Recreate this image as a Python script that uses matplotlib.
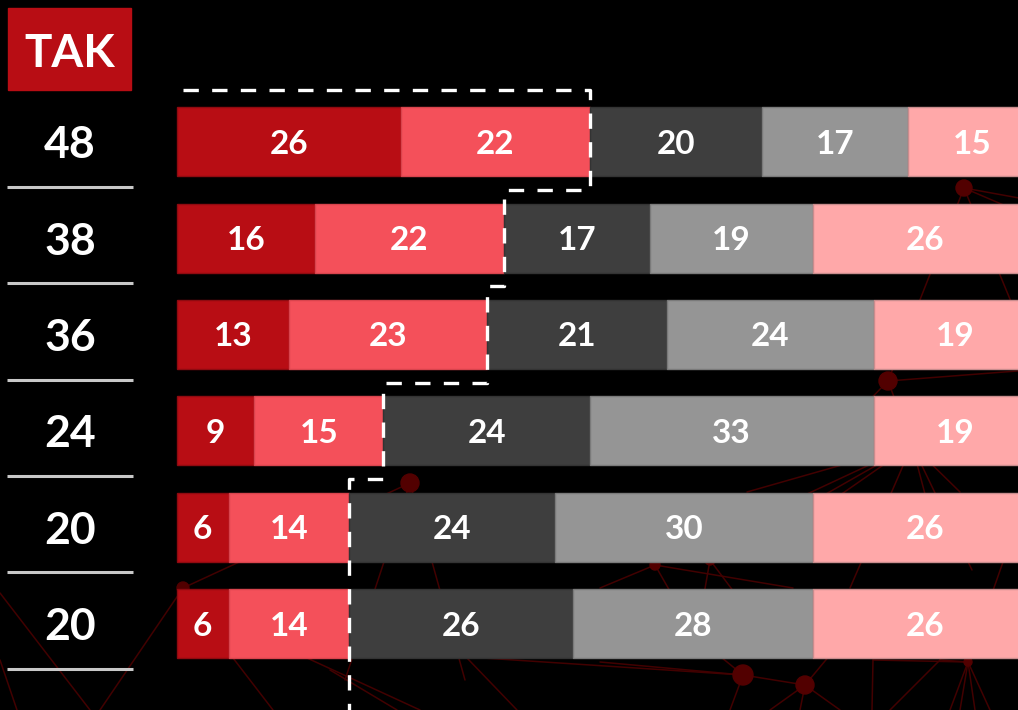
import matplotlib
matplotlib.use('Agg')
import matplotlib.pyplot as plt
import matplotlib.transforms as mtransforms
from matplotlib.patches import Rectangle, Circle
import numpy as np

plt.rcParams['font.family'] = ['Lato', 'DejaVu Sans']

# ---------------- data ----------------
header = "TAK"
seg1 = [26, 16, 13, 9, 6, 6]       # dark red
seg2 = [22, 22, 23, 15, 14, 14]    # red
seg3 = [20, 17, 21, 24, 24, 26]    # dark grey
seg4 = [17, 19, 24, 33, 30, 28]    # grey
seg5 = [15, 26, 19, 19, 26, 26]    # light pink
series = [seg1, seg2, seg3, seg4, seg5]
colors = ['#B80D14', '#F4505A', '#3E3E3E', '#959595', '#FFA8A9']
edge_colors = ['#8F0A10', '#D8444D', '#333333', '#7A7A7A', '#C98C8D']

# ---------------- layout ----------------
W, H = 1018, 710
PX_PER_UNIT = 8.6
BAR_X0 = 177
ROW0 = 141.7
ROW_STEP = 96.36
BAR_H = 0.716

fig = plt.figure(figsize=(W / 100, H / 100), dpi=100, facecolor='black')

# decorative background network (purely ornamental)
bg = fig.add_axes([0, 0, 1, 1])
bg.set_xlim(0, W)
bg.set_ylim(H, 0)
bg.axis('off')
bg.set_facecolor('black')
nodes = {
    'A': (964, 188, 8), 'B': (888, 381, 9), 'C': (410, 483, 9),
    'D': (183, 588, 6), 'E': (743, 675, 10), 'F': (805, 685, 9),
    'G': (655, 565, 5), 'H': (710, 560, 5), 'I': (968, 662, 4),
    'J': (912, 445, 4),
}
deco_edges = [
    ('A', 'B'), ('A', (1060, 420)), ('A', (1030, 200)), ('A', (1050, 225)),
    ('B', (1030, 370)), ('B', 'J'), ('B', (850, 420)),
    ('C', 'D'), ('C', (345, 680)), ('C', (465, 680)),
    ('D', (100, 710)), ((0, 593), (90, 710)), ((0, 660), (17, 710)),
    ((233, 658), (273, 710)), ((307, 658), (420, 710)),
    ((467, 658), (517, 710)), ((483, 658), 'E'), ((330, 670), (397, 710)),
    ('E', (600, 662)), ('E', 'F'), ('E', (730, 710)), ('E', (700, 640)),
    ('F', (800, 710)), ('F', (770, 710)), ('F', (830, 655)), ('F', (840, 710)),
    ('G', (600, 588)), ('G', (675, 600)), ('G', (793, 588)), ('G', 'J'),
    ('H', (703, 600)), ('H', (740, 600)), ('H', 'J'),
    ('J', (747, 492)), ('J', (833, 500)), ('J', (960, 492)),
    ('J', (850, 588)), ('J', (943, 562)), ('J', (972, 570)),
    ('I', (950, 710)), ('I', (960, 710)), ('I', (975, 710)), ('I', (990, 710)),
    ('I', (940, 660)), ('I', (1003, 562)), ('I', (873, 660)),
    ((940, 660), (890, 710)), ((873, 660), (872, 710)),
]


def _pt(p):
    if isinstance(p, str):
        return nodes[p][0], nodes[p][1]
    return p


for a, b in deco_edges:
    (x1, y1), (x2, y2) = _pt(a), _pt(b)
    bg.plot([x1, x2], [y1, y2], color='#420000', lw=1.1, zorder=1,
            solid_capstyle='round')
for name, (x, y, r) in nodes.items():
    bg.add_patch(Circle((x, y), r, color='#520000', zorder=2))

# main chart axes
ax = fig.add_axes([0, 0, 1, 1])
ax.patch.set_alpha(0)
ax.axis('off')
ax.set_xlim(-BAR_X0 / PX_PER_UNIT, (W - BAR_X0) / PX_PER_UNIT)
ax.set_ylim((H - ROW0) / ROW_STEP, -ROW0 / ROW_STEP)

n = len(seg1)
ypos = np.arange(n)
left = np.zeros(n)
for vals, c, ec in zip(series, colors, edge_colors):
    vals = np.array(vals, dtype=float)
    ax.barh(ypos, vals, left=left, height=BAR_H, color=c, edgecolor=ec,
            linewidth=1.0, zorder=3)
    for i, v in enumerate(vals):
        ax.text(left[i] + v / 2, ypos[i], f"{int(v)}", ha='center',
                va='center_baseline', color='white', fontsize=24,
                fontweight='bold', zorder=5)
    left += vals

# dashed outline around the "TAK" share
yes = np.array(seg1) + np.array(seg2)
xs = [0.7, yes[0]]
ys = [-0.54, -0.54]
for i in range(n):
    nxt = yes[i + 1] if i + 1 < n else yes[i]
    xs += [yes[i], nxt]
    ys += [i + 0.5, i + 0.5]
xs.append(yes[-1])
ys.append(n + 0.6)
ln, = ax.plot(xs, ys, color='white', lw=2.4, zorder=6,
              solid_joinstyle='miter')
ln.set_dashes((4.6, 4.0))
ln.set_dash_capstyle('butt')

# left column
tr = mtransforms.blended_transform_factory(fig.transFigure, ax.transData)
fig.patches.append(Rectangle((8 / W, 1 - 90 / H), 123 / W, 82 / H,
                             transform=fig.transFigure, color='#B80D14',
                             zorder=3))
fig.text(69.5 / W, 1 - 50 / H, header, ha='center', va='center_baseline',
         color='white', fontsize=33, fontweight='bold', zorder=4)
for i, v in enumerate(yes):
    ax.text(70 / W, i, f"{int(v)}", transform=tr, ha='center',
            va='center_baseline', color='white', fontsize=32,
            fontweight='bold', zorder=5)
    sep_y = i + (187 - ROW0) / ROW_STEP
    ax.plot([7 / W, 133 / W], [sep_y, sep_y], transform=tr, color='#C8C8C8',
            lw=2.2, zorder=5, solid_capstyle='butt')

fig.savefig('out.png', dpi=100, facecolor='black')
